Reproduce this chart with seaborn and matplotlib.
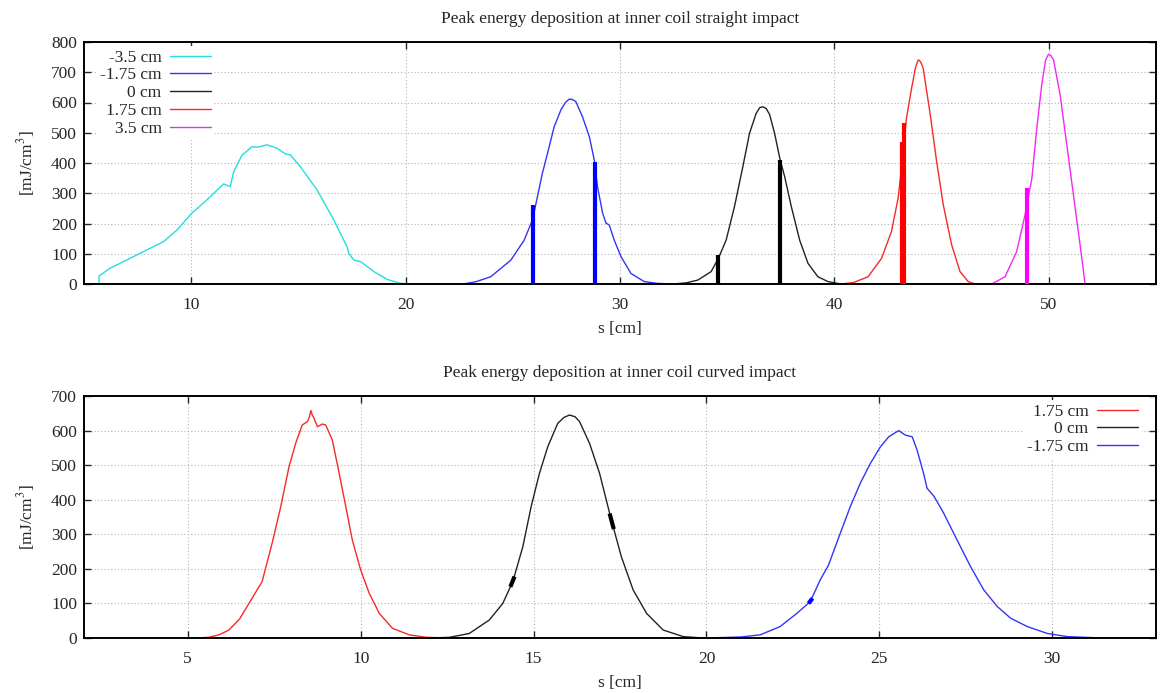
import numpy as np
import pandas as pd
import matplotlib
matplotlib.use("Agg")
import matplotlib.pyplot as plt
import seaborn as sns

# ---------------- data: straight impact (top) ----------------
s_m350 = [5.70, 5.70, 6.21, 6.84, 7.77, 8.71, 9.33, 10.03, 10.73, 11.51, 11.82, 11.98, 12.37,
          12.84, 13.07, 13.54, 14.00, 14.39, 14.62, 15.09, 15.87, 16.65, 17.27, 17.35, 17.59,
          17.90, 18.52, 19.15, 19.77, 20.3, 55.0]
e_m350 = [0, 26, 52, 74, 107, 140, 178, 234, 278, 331, 322, 371, 426,
          454, 452, 460, 449, 430, 427, 388, 311, 212, 123, 101, 79,
          74, 41, 15, 2, 0, 0]

s_m175 = [5.0, 22.7, 23.3, 23.97, 24.91, 25.53, 25.92, 26.15, 26.38, 26.62, 26.93, 27.24, 27.45,
          27.63, 27.78, 27.94, 28.25, 28.57, 28.80, 28.95, 29.19, 29.35, 29.5, 29.73, 30.05,
          30.51, 31.13, 31.76, 32.5, 55.0]
e_m175 = [0, 0, 8, 24, 79, 145, 212, 289, 366, 432, 520, 575, 600,
          611, 610, 603, 553, 487, 410, 322, 234, 201, 195, 145, 90,
          35, 8, 2, 0, 0]

s_0 = [5.0, 32.5, 33.1, 33.63, 34.25, 34.59, 34.95, 35.34, 35.73, 36.04, 36.35, 36.52, 36.66,
       36.82, 36.98, 37.21, 37.47, 37.68, 37.99, 38.38, 38.77, 39.23, 39.70, 40.3, 55.0]
e_0 = [0, 0, 4, 13, 41, 85, 145, 256, 388, 498, 564, 583, 586,
       580, 560, 498, 410, 355, 256, 145, 68, 24, 8, 0, 0]

s_p175 = [5.0, 40.3, 40.9, 41.57, 42.20, 42.66, 42.97, 43.16, 43.36, 43.60, 43.78, 43.91, 44.02,
          44.14, 44.45, 44.77, 45.08, 45.47, 45.86, 46.24, 46.55, 55.0]
e_p175 = [0, 0, 5, 24, 85, 173, 283, 404, 548, 647, 715, 741, 735,
          713, 570, 404, 261, 129, 41, 8, 0, 0]

s_p350 = [5.0, 47.34, 47.96, 48.50, 48.89, 49.21, 49.44, 49.67, 49.85, 49.98, 50.10, 50.22,
          50.53, 50.84, 51.15, 51.46, 51.62, 51.69, 55.0]
e_p350 = [0, 0, 24, 107, 228, 349, 515, 658, 740, 759, 755, 741,
          625, 460, 294, 129, 41, 0, 0]

# spikes (thick vertical strokes) in the straight-impact data
spike_series = ["-1.75 cm", "-1.75 cm", "0 cm", "0 cm", "1.75 cm", "1.75 cm", "3.5 cm"]
spike_s = [25.95, 28.83, 34.59, 37.47, 43.17, 43.24, 49.00]
spike_e = [261, 404, 96, 410, 470, 531, 319]

# ---------------- data: curved impact (bottom) ----------------
c_p175_s = [5.22, 5.61, 5.90, 6.19, 6.50, 6.77, 7.15, 7.44, 7.69, 7.93, 8.12, 8.31, 8.46, 8.52,
            8.56, 8.60, 8.65, 8.75, 8.89, 8.99, 9.18, 9.38, 9.57, 9.76, 10.0, 10.25, 10.54,
            10.92, 11.41, 11.9, 12.5]
c_p175_e = [0, 2, 9, 23, 55, 100, 163, 274, 380, 496, 563, 616, 626, 640,
            658, 645, 636, 611, 619, 616, 573, 476, 380, 283, 197, 129, 71,
            28, 9, 2, 0]

c_0_s = [12.0, 12.57, 13.14, 13.72, 14.11, 14.40, 14.69, 14.93, 15.17, 15.41, 15.70, 15.88,
         16.04, 16.20, 16.33, 16.62, 16.91, 17.25, 17.54, 17.88, 18.27, 18.75, 19.33, 19.9, 20.0]
c_0_e = [0, 2, 13, 52, 100, 163, 264, 380, 476, 553, 621, 638,
         645, 640, 626, 563, 476, 341, 235, 139, 71, 23, 4, 0, 0]

c_m175_s = [20.0, 21.0, 21.55, 22.13, 22.61, 23.0, 23.29, 23.53, 23.87, 24.16, 24.45, 24.74,
            25.03, 25.27, 25.56, 25.75, 25.95, 26.09, 26.28, 26.38, 26.58, 26.86, 27.25, 27.64,
            28.02, 28.41, 28.80, 29.28, 29.86, 30.44, 31.2, 32.0, 33.0]
c_m175_e = [0, 3, 9, 33, 71, 105, 168, 211, 303, 380, 448, 505,
            553, 582, 600, 587, 582, 544, 476, 433, 410, 361, 283, 206,
            139, 91, 57, 33, 13, 4, 1, 0, 0]

# short thickened stretches in the curved-impact data
thick_series = ["0 cm", "0 cm", "0 cm", "0 cm", "-1.75 cm", "-1.75 cm"]
thick_s = [14.33, 14.45, 17.20, 17.32, 22.95, 23.07]
thick_e = [148, 178, 360, 315, 100, 115]

straight_labels = ["-3.5 cm", "-1.75 cm", "0 cm", "1.75 cm", "3.5 cm"]
curved_labels = ["1.75 cm", "0 cm", "-1.75 cm"]
colors = {"-3.5 cm": "#22dede", "-1.75 cm": "#3535f5", "0 cm": "#222222",
          "1.75 cm": "#f52a2a", "3.5 cm": "#f02af0"}
spike_colors = {"-1.75 cm": "#0000ff", "0 cm": "#000000", "1.75 cm": "#ff0000", "3.5 cm": "#ff00ff"}

# ---------------- build tables ----------------
top = pd.concat([
    pd.DataFrame({"s": s_m350, "E": e_m350, "z": "-3.5 cm"}),
    pd.DataFrame({"s": s_m175, "E": e_m175, "z": "-1.75 cm"}),
    pd.DataFrame({"s": s_0, "E": e_0, "z": "0 cm"}),
    pd.DataFrame({"s": s_p175, "E": e_p175, "z": "1.75 cm"}),
    pd.DataFrame({"s": s_p350, "E": e_p350, "z": "3.5 cm"}),
], ignore_index=True)
bot = pd.concat([
    pd.DataFrame({"s": c_p175_s, "E": c_p175_e, "z": "1.75 cm"}),
    pd.DataFrame({"s": c_0_s, "E": c_0_e, "z": "0 cm"}),
    pd.DataFrame({"s": c_m175_s, "E": c_m175_e, "z": "-1.75 cm"}),
], ignore_index=True)

sns.set_style("ticks")
plt.rcParams["font.family"] = ["Liberation Serif", "DejaVu Serif"]
plt.rcParams["mathtext.fontset"] = "stix"
FS = 12.5

W, H = 1164, 693
fig = plt.figure(figsize=(W / 100, H / 100), dpi=100)
ax1 = fig.add_axes([84 / W, 1 - 284 / H, (1156 - 84) / W, (284 - 42) / H])
ax2 = fig.add_axes([84 / W, 1 - 638 / H, (1156 - 84) / W, (638 - 396) / H])


def style_axes(ax, title):
    ax.grid(True, linestyle=(0, (1, 2)), color="#b4b4b4", linewidth=0.8)
    ax.set_axisbelow(True)
    for sp in ax.spines.values():
        sp.set_visible(True)
        sp.set_linewidth(1.4)
        sp.set_color("black")
    ax.tick_params(axis="both", direction="in", top=True, right=True, length=5, width=1.0,
                   labelsize=FS)
    ax.tick_params(axis="x", pad=9.5)
    ax.tick_params(axis="y", pad=5)
    ax.set_xlabel("s [cm]", fontsize=FS)
    ax.set_ylabel("[mJ/cm$^3$]", fontsize=FS)
    ax.xaxis.set_label_coords(0.5, -0.152)
    ax.yaxis.set_label_coords(-0.0438, 0.5)
    ax.set_title(title, fontsize=FS, pad=0, y=1.093, va="center")


def style_legend(leg):
    fr = leg.get_frame()
    fr.set_facecolor("white")
    fr.set_edgecolor("white")
    fr.set_linewidth(0)
    fr.set_alpha(1)


# top
sns.lineplot(data=top, x="s", y="E", hue="z", hue_order=straight_labels, palette=colors,
             ax=ax1, linewidth=1.0, estimator=None, sort=False)
for z, sx, se in zip(spike_series, spike_s, spike_e):
    ax1.vlines(sx, 0, se, color=spike_colors[z], linewidth=3.0, zorder=3)
ax1.set_xlim(5, 55)
ax1.set_ylim(0, 800)
ax1.set_xticks([10, 20, 30, 40, 50])
ax1.set_yticks(range(0, 801, 100))
style_axes(ax1, "Peak energy deposition at inner coil straight impact")
leg1 = ax1.legend(loc="upper left", bbox_to_anchor=(0.0117, 0.983), frameon=True,
                  markerfirst=False, fontsize=FS, handlelength=2.35, labelspacing=0.09,
                  borderaxespad=0, borderpad=0.2, handletextpad=0.5)
style_legend(leg1)

# bottom
sns.lineplot(data=bot, x="s", y="E", hue="z", hue_order=curved_labels, palette=colors,
             ax=ax2, linewidth=1.0, estimator=None, sort=False)
for i in range(0, len(thick_s), 2):
    z = thick_series[i]
    ax2.plot(thick_s[i:i + 2], thick_e[i:i + 2], color=spike_colors[z], linewidth=3.0,
             solid_capstyle="butt", zorder=3)
ax2.set_xlim(2, 33)
ax2.set_ylim(0, 700)
ax2.set_xticks([5, 10, 15, 20, 25, 30])
ax2.set_yticks(range(0, 701, 100))
style_axes(ax2, "Peak energy deposition at inner coil curved impact")
leg2 = ax2.legend(loc="upper right", bbox_to_anchor=(0.9865, 0.983), frameon=True,
                  markerfirst=False, fontsize=FS, handlelength=2.35, labelspacing=0.09,
                  borderaxespad=0, borderpad=0.2, handletextpad=0.5)
style_legend(leg2)

fig.savefig("out.png", dpi=100)
